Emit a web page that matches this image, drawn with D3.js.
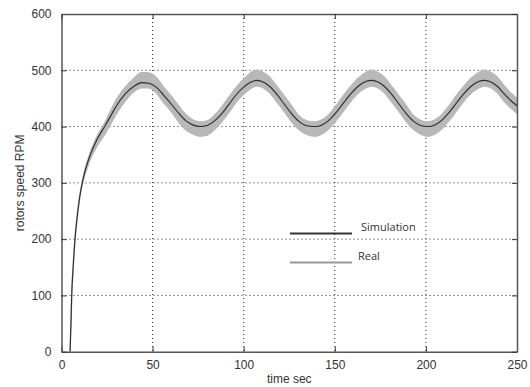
<!DOCTYPE html>
<html>
<head>
<meta charset="utf-8">
<title>rotors speed</title>
<script src="https://d3js.org/d3.v7.min.js"></script>
<style>
  body { margin: 0; background: #fff; }
  text { font-family: "Liberation Sans", Arial, sans-serif; fill: #333; }
</style>
</head>
<body>
<div id="chart"></div>
<script>
// time (s) and simulated rotor speed (RPM)
var time = [4.7, 5.2, 5.6, 6.4, 7.4, 8.8, 10, 11.4, 13, 15.6, 19, 24, 27, 30, 35, 40, 44, 48, 52, 56,
            60, 64, 68, 72, 76, 80, 84, 88, 92, 96, 100, 104, 107, 110, 114, 118, 122, 126, 130, 134,
            139, 143, 147, 151, 155, 159, 163, 167, 170, 173, 177, 181, 185, 189, 193, 197, 201, 205, 209, 213,
            217, 221, 225, 229, 232, 235, 239, 243, 247, 250];
var simulation = [0, 50, 100, 150, 200, 245, 275, 300, 322, 348, 374, 402, 419, 436, 458, 472, 478, 477, 470, 456,
                  441, 425, 411, 403, 400, 402, 410, 423, 440, 457, 470, 479, 482, 480, 472, 458, 441, 424, 410, 402,
                  400, 403, 412, 426, 443, 459, 472, 480, 482, 480, 472, 458, 441, 424, 410, 402, 400, 403, 412, 426,
                  443, 459, 472, 480, 482, 480, 472, 458, 445, 437];
// measured speed: upper and lower envelope of the noisy band
var realHigh = [1, 52, 102, 152, 202, 247, 277, 302, 325, 352, 379, 408, 428, 447, 470, 486, 496, 495, 487, 470,
                455, 438, 422, 412, 408, 410, 420, 435, 453, 470, 484, 496, 500, 497, 488, 472, 455, 438, 420, 411,
                408, 412, 422, 438, 456, 472, 486, 496, 500, 497, 488, 472, 455, 438, 420, 411, 408, 412, 422, 438,
                456, 472, 486, 496, 500, 497, 488, 472, 458, 450];
var realLow = [0, 48, 98, 148, 198, 243, 273, 297, 316, 340, 363, 388, 405, 422, 446, 463, 469, 469, 460, 443,
               428, 410, 395, 387, 383, 385, 395, 409, 426, 444, 458, 468, 472, 470, 461, 445, 428, 410, 396, 387,
               383, 387, 397, 412, 429, 446, 460, 469, 472, 470, 461, 445, 428, 410, 396, 387, 383, 387, 397, 412,
               429, 446, 460, 469, 472, 470, 461, 445, 432, 424];
var xTicks = [0, 50, 100, 150, 200, 250];
var yTicks = [0, 100, 200, 300, 400, 500, 600];

var width = 530, height = 387;
var pLeft = 61.5, pRight = 517, pTop = 14, pBottom = 351.7;

var svg = d3.select('#chart').append('svg')
    .attr('width', width)
    .attr('height', height);

var x = d3.scaleLinear().domain([0, 250]).range([pLeft, pRight]);
var y = d3.scaleLinear().domain([0, 600]).range([pBottom, pTop]);

svg.append('clipPath').attr('id', 'clip')
  .append('rect')
    .attr('x', pLeft).attr('y', pTop)
    .attr('width', pRight - pLeft).attr('height', pBottom - pTop);

// dotted grid
var grid = svg.append('g');
grid.selectAll('.gx').data(xTicks.slice(1, -1)).enter()
  .append('line')
    .attr('x1', function (d) { return x(d); })
    .attr('x2', function (d) { return x(d); })
    .attr('y1', pTop).attr('y2', pBottom)
    .style('stroke', '#222').style('stroke-dasharray', '1,3');
grid.selectAll('.gy').data(yTicks.slice(1, -1)).enter()
  .append('line')
    .attr('x1', pLeft).attr('x2', pRight)
    .attr('y1', function (d) { return y(d); })
    .attr('y2', function (d) { return y(d); })
    .style('stroke', '#222').style('stroke-dasharray', '1,3');

var pts = time.map(function (t, i) {
  return { t: t, sim: simulation[i], hi: realHigh[i], lo: realLow[i] };
});

var band = d3.area()
    .x(function (d) { return x(d.t); })
    .y0(function (d) { return y(d.lo); })
    .y1(function (d) { return y(d.hi); })
    .curve(d3.curveMonotoneX);

var simLine = d3.line()
    .x(function (d) { return x(d.t); })
    .y(function (d) { return y(d.sim); })
    .curve(d3.curveMonotoneX);

var plot = svg.append('g').attr('clip-path', 'url(#clip)');
plot.append('path')
    .datum(pts)
    .attr('d', band)
    .style('fill', '#b8b8b8')
    .style('stroke', '#b8b8b8')
    .style('stroke-width', 1.5);
plot.append('path')
    .datum(pts)
    .attr('d', simLine)
    .style('fill', 'none')
    .style('stroke', '#2a2a2a')
    .style('stroke-width', 1.1);

// axes (ticks inside, MATLAB style)
var xAxis = d3.axisBottom(x).tickValues(xTicks).tickSizeInner(-5).tickSizeOuter(0).tickPadding(9);
var yAxis = d3.axisLeft(y).tickValues(yTicks).tickSizeInner(-5).tickSizeOuter(0).tickPadding(10);

svg.append('g').attr('transform', 'translate(0,' + pBottom + ')').call(xAxis);
svg.append('g').attr('transform', 'translate(' + pLeft + ',0)').call(yAxis);
svg.append('g').attr('transform', 'translate(0,' + pTop + ')')
    .call(d3.axisTop(x).tickValues(xTicks).tickSizeInner(-5).tickSizeOuter(0).tickFormat(''));
svg.append('g').attr('transform', 'translate(' + pRight + ',0)')
    .call(d3.axisRight(y).tickValues(yTicks).tickSizeInner(-5).tickSizeOuter(0).tickFormat(''));

svg.selectAll('.domain').style('stroke', '#555').style('stroke-width', 1.5);
svg.selectAll('.tick line').style('stroke', '#333');
svg.selectAll('.tick text')
    .style('font-family', '"Liberation Sans", Arial, sans-serif')
    .style('font-size', '12px').style('fill', '#333');

// axis titles
svg.append('text')
    .attr('x', (pLeft + pRight) / 2).attr('y', 383)
    .attr('text-anchor', 'middle')
    .style('font-size', '12px')
    .text('time sec');
svg.append('text')
    .attr('transform', 'translate(24,' + (pTop + pBottom) / 2 + ') rotate(-90)')
    .attr('text-anchor', 'middle')
    .style('font-size', '12px')
    .text('rotors speed RPM');

// legend
var legend = svg.append('g');
legend.append('line')
    .attr('x1', 290).attr('x2', 352).attr('y1', 233.5).attr('y2', 233.5)
    .style('stroke', '#333').style('stroke-width', 2);
legend.append('text')
    .attr('x', 361).attr('y', 231)
    .style('font-family', '"Open Sans", sans-serif')
    .style('font-size', '11px')
    .text('Simulation');
legend.append('line')
    .attr('x1', 290).attr('x2', 352).attr('y1', 262.5).attr('y2', 262.5)
    .style('stroke', '#999').style('stroke-width', 2);
legend.append('text')
    .attr('x', 358).attr('y', 260)
    .style('font-family', '"Open Sans", sans-serif')
    .style('font-size', '11px')
    .text('Real');
</script>
</body>
</html>
